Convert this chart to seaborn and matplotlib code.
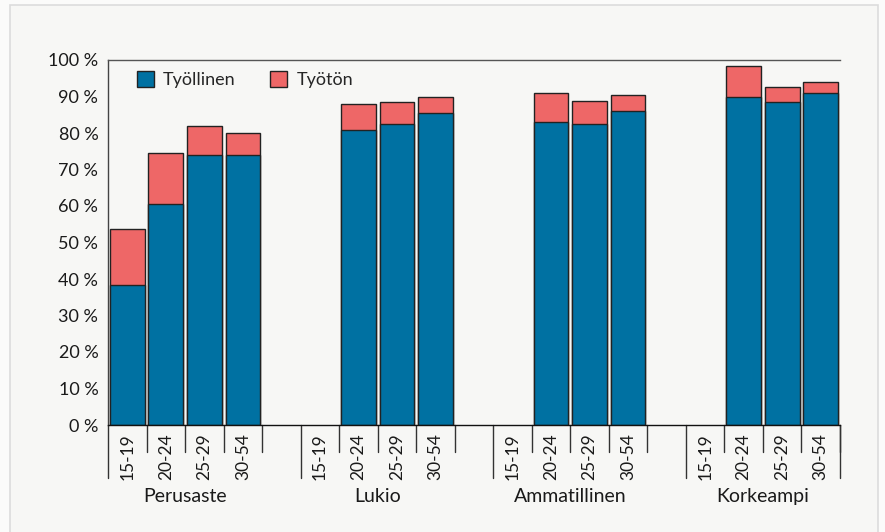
import numpy as np
import pandas as pd
import seaborn as sns
import matplotlib.pyplot as plt
from matplotlib.patches import Rectangle

# Data (percent of age group)
groups = ['Perusaste', 'Lukio', 'Ammatillinen', 'Korkeampi']
ages = ['15-19', '20-24', '25-29', '30-54']
employed = [
    [38.4, 60.5, 74.0, 74.0],
    [np.nan, 80.8, 82.5, 85.5],
    [np.nan, 83.0, 82.5, 86.0],
    [np.nan, 90.0, 88.5, 91.0],
]
unemployed = [
    [15.3, 14.0, 8.0, 6.0],
    [np.nan, 7.2, 6.0, 4.5],
    [np.nan, 8.0, 6.3, 4.4],
    [np.nan, 8.4, 4.1, 3.0],
]

blue = '#0071a2'
red = '#ee6767'

rows = []
for g, grp in enumerate(groups):
    for a, age in enumerate(ages):
        rows.append({'group': grp, 'age': age, 'pos': g * 5 + a,
                     'employed': employed[g][a], 'unemployed': unemployed[g][a]})
df = pd.DataFrame(rows)
df['total'] = df['employed'] + df['unemployed']
bars = df.dropna()

sns.set_style('white')
plt.rcParams['font.family'] = ['Lato', 'DejaVu Sans']

fig = plt.figure(figsize=(8.85, 5.32), dpi=100)
fig.patch.set_facecolor('#fbfbfa')
fig.patches.append(Rectangle((10 / 885, -0.05), 868 / 885, 1.05 - 5 / 532,
                             transform=fig.transFigure, facecolor='#f7f7f5',
                             edgecolor='#dcdcdc', linewidth=1.2, zorder=-10))
ax = fig.add_axes([108 / 885, 1 - 425 / 532, 732 / 885, 365 / 532])
ax.set_facecolor('#f7f7f5')

sns.barplot(data=bars, x='pos', y='total', native_scale=True, color=red,
            width=0.9, edgecolor='#222222', linewidth=1, errorbar=None,
            saturation=1, ax=ax, label='Työtön')
sns.barplot(data=bars, x='pos', y='employed', native_scale=True, color=blue,
            width=0.9, edgecolor='#222222', linewidth=1, errorbar=None,
            saturation=1, ax=ax, label='Työllinen')

ax.set_xlim(-0.5, 18.5)
ax.set_ylim(0, 100)
ax.set_yticks(range(0, 101, 10))
ax.set_yticklabels([f'{v} %' for v in range(0, 101, 10)], fontsize=13, color='#1a1a1a')
ax.tick_params(axis='y', direction='out', length=4, width=1, color='#333333', pad=3)

ax.set_xticks(df['pos'])
ax.set_xticklabels(df['age'], rotation=90, fontsize=12.5, color='#1a1a1a')
ax.tick_params(axis='x', length=0, pad=6)
ax.set_xlabel('')
ax.set_ylabel('')

ax.spines['right'].set_visible(False)
ax.spines['top'].set_color('#555555')
ax.spines['left'].set_color('#444444')
ax.spines['bottom'].set_color('#111111')
for s in ['top', 'left', 'bottom']:
    ax.spines[s].set_linewidth(1)

# category separator ticks below the axis
tr = ax.get_xaxis_transform()
for g in range(len(groups)):
    start = g * 5 - 0.5
    ax.plot([start, start], [0, -0.145], transform=tr, color='#333333', lw=1, clip_on=False)
    for a in range(len(ages)):
        x = g * 5 + a + 0.5
        ax.plot([x, x], [0, -0.074], transform=tr, color='#333333', lw=1, clip_on=False)
    ax.text(g * 5 + 1.5, -0.195, groups[g], transform=tr, ha='center', va='center',
            fontsize=14, color='#1a1a1a')
end = (len(groups) - 1) * 5 + 3.5
ax.plot([end, end], [0, -0.145], transform=tr, color='#333333', lw=1, clip_on=False)

handles, labels = ax.get_legend_handles_labels()
order = [labels.index('Työllinen'), labels.index('Työtön')]
ax.legend([handles[i] for i in order], [labels[i] for i in order], loc='upper left',
          bbox_to_anchor=(20 / 732, 1 - 2 / 365), ncol=2, frameon=False, fontsize=13,
          borderpad=0, handlelength=0.95, handleheight=0.95, handletextpad=0.5,
          columnspacing=1.9)

fig.savefig('out.png', dpi=100, facecolor=fig.get_facecolor())
